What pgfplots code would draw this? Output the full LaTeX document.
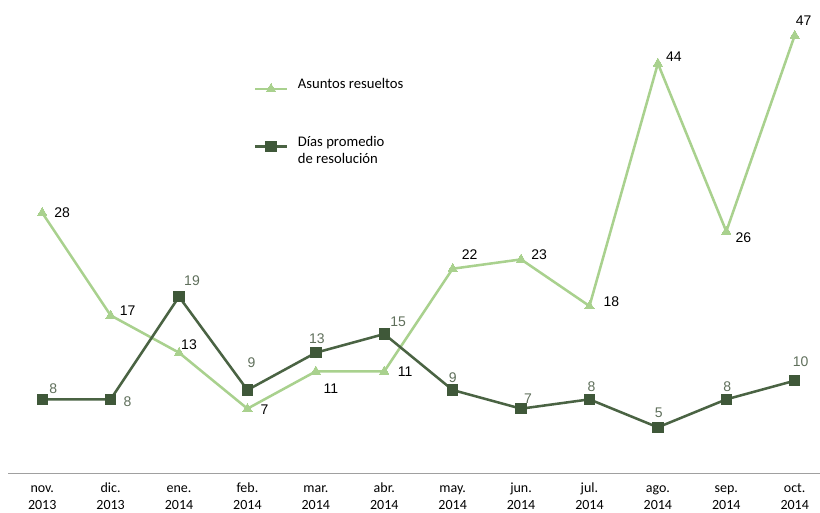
\documentclass[border=0pt]{standalone}
\usepackage{pgfplots}
\pgfplotsset{compat=1.18}
\usepackage{pgfplotstable}
\usepackage{fontspec}
\setmainfont{Carlito}
\newfontfamily\arialfont{Liberation Sans}

\definecolor{lightgrn}{HTML}{A9D18E}
\definecolor{darkgrn}{HTML}{4A6343}
\definecolor{darkmark}{HTML}{3F5839}
\definecolor{darklbl}{HTML}{5F6F5B}
\definecolor{axisgray}{HTML}{A0A0A0}

% x, value, label offset (dx, dy) in px
\pgfplotstableread{
x y dx dy
0 28 20 0
1 17 17 5
2 13 10 8
3 7 17 -1
4 11 15 -17
5 11 21 0
6 22 17 14
7 23 18 5
8 18 22 4
9 44 16 7
10 26 17 -6
11 47 9 15
}\asuntos

\pgfplotstableread{
x y dx dy
0 8 11 11
1 8 17 -2
2 19 13 16
3 9 4 27
4 13 1 14
5 15 14 12
6 9 0 12
7 7 7 10
8 8 2 13
9 5 1 15
10 8 1 13
11 10 6 19
}\dias

% two-line month label: strut on the first line keeps all rows level
\newcommand{\mlab}[2]{\strut #1\\#2}

\begin{document}
\begin{tikzpicture}
\useasboundingbox (0,0) rectangle (615pt,384.75pt);
\begin{axis}[
  at={(6pt,29.25pt)}, anchor=south west,
  scale only axis,
  width=609pt, height=355.5pt,
  xmin=-0.5, xmax=11.37,
  ymin=0, ymax=50.8,
  axis x line=bottom, axis y line=none,
  axis line style={axisgray, line width=0.75pt, -},
  xtick={0,...,11},
  xticklabels={{\mlab{nov.}{2013}},{\mlab{dic.}{2013}},{\mlab{ene.}{2014}},{\mlab{feb.}{2014}},{\mlab{mar.}{2014}},{\mlab{abr.}{2014}},{\mlab{may.}{2014}},{\mlab{jun.}{2014}},{\mlab{jul.}{2014}},{\mlab{ago.}{2014}},{\mlab{sep.}{2014}},{\mlab{oct.}{2014}}},
  xticklabel style={align=center, anchor=north, inner ysep=0pt, font=\fontsize{10.5}{12.5}\selectfont, yshift=-5pt},
  major tick length=0pt,
  ytick=\empty,
  clip=false,
  /pgf/number format/assume math mode=true,
  nodes near coords,
  point meta=explicit,
  visualization depends on={\thisrow{dx} \as \dx},
  visualization depends on={\thisrow{dy} \as \dy},
  every node near coord/.style={anchor=center, xshift={0.75pt*\dx}, yshift={0.75pt*\dy}, font=\arialfont\fontsize{10.5}{12}\selectfont, inner sep=0pt},
  legend style={draw=none, fill=none, at={(0.2975,0.846)}, anchor=north west,
    font=\fontsize{11}{12.75}\selectfont, row sep=29pt,
    nodes={anchor=base west, inner xsep=7.2pt}},
  legend cell align=left,
  legend image code/.code={\draw[mark repeat=2, mark phase=2] plot coordinates {(0cm,0cm) (0.42cm,0cm) (0.84cm,0cm)};},
]
\addplot[color=lightgrn, line width=1.9pt, mark=triangle*, mark size=4pt,
  mark options={fill=lightgrn, draw=lightgrn, line width=0pt},
  every node near coord/.append style={text=black}]
  table[x=x, y=y, meta=y] {\asuntos};
\addlegendentry{Asuntos resueltos}
\addplot[color=darkgrn, line width=1.9pt, mark=square*, mark size=3.9pt,
  mark options={fill=darkmark, draw=darkmark, line width=0pt},
  every node near coord/.append style={text=darklbl}]
  table[x=x, y=y, meta=y] {\dias};
\addlegendentry{\begin{tabular}[t]{@{}l@{}}Días promedio\\de resolución\end{tabular}}
\end{axis}
\end{tikzpicture}
\end{document}
